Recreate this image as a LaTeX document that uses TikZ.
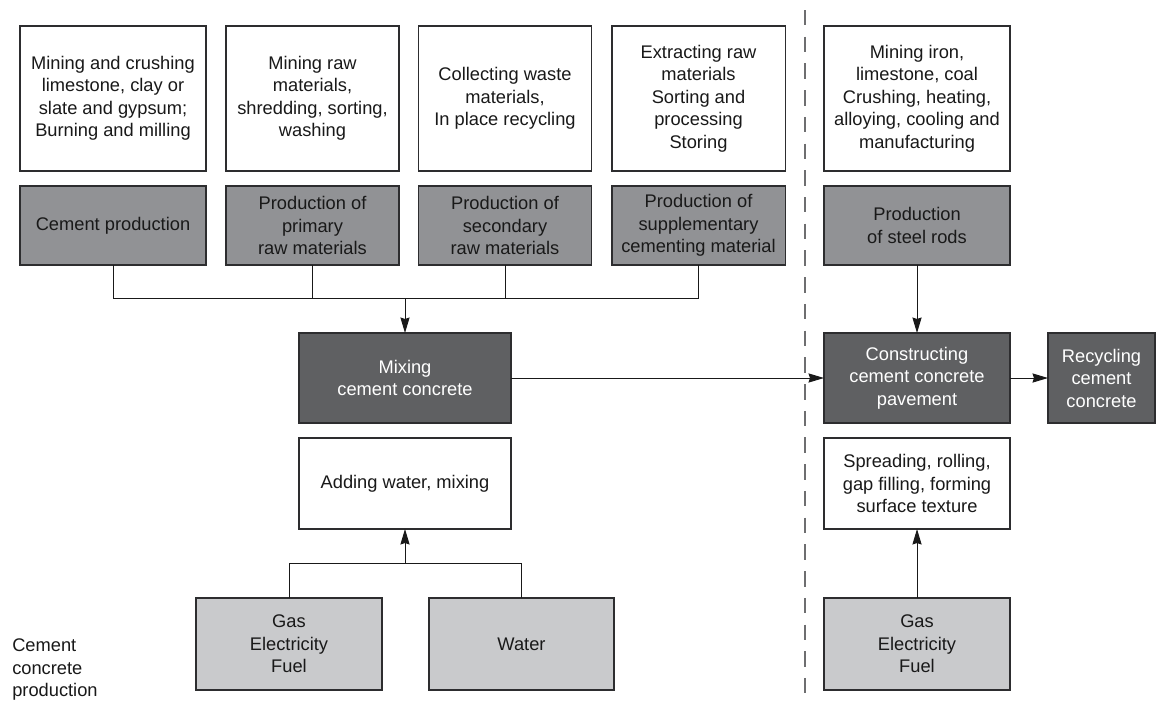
\documentclass[tikz,border=0pt]{standalone}
\usepackage{fontspec}
\setmainfont{Liberation Sans}
\usepackage{xcolor}
\definecolor{grisBorde}{RGB}{45, 45, 47}
\definecolor{grisFuerte}{RGB}{95, 96, 98}
\definecolor{grisMedio}{RGB}{145, 146, 149}
\definecolor{grisSuave}{RGB}{201, 202, 204}
\definecolor{grisRaya}{RGB}{110, 110, 112}
\usepackage{tikz}
\usetikzlibrary{arrows.meta,calc,positioning}
\tikzstyle{edge}  =[line width=0.7pt, draw=black!90,
                    >={Stealth[length=11pt,width=6.5pt,inset=1pt]}]
\tikzstyle{box}   =[rectangle, draw=grisBorde, line width=0.9pt,
                    align=center, inner sep=2pt, outer sep=0pt,
                    font=\fontsize{13}{16}\selectfont]
\tikzstyle{wbox}  =[box, fill=white, text=black!90]
\tikzstyle{gbox}  =[box, fill=grisMedio, text=black!90]
\tikzstyle{dbox}  =[box, fill=grisFuerte, text=white]
\tikzstyle{lbox}  =[box, fill=grisSuave, text=black!90]

\begin{document}
\begin{tikzpicture}[x=0.025cm,y=-0.025cm]

    \useasboundingbox (0,0) rectangle (1156,704);

    % top row, what each step needs
    \draw (113,98.5) node (w1) [wbox, minimum width=4.65cm, minimum height=3.625cm]
        {Mining and crushing\\limestone, clay or\\slate and gypsum;\\Burning and milling};
    \draw (312.5,98.5) node (w2) [wbox, minimum width=4.33cm, minimum height=3.625cm]
        {Mining raw\\materials,\\shredding, sorting,\\washing};
    \draw (505,98.5) node (w3) [wbox, minimum width=4.33cm, minimum height=3.625cm]
        {Collecting waste\\materials,\\In place recycling};
    \draw (698.5,98.5) node (w4) [wbox, minimum width=4.33cm, minimum height=3.625cm]
        {Extracting raw\\materials\\Sorting and\\processing\\Storing};
    \draw (917,98.5) node (w5) [wbox, minimum width=4.65cm, minimum height=3.625cm]
        {Mining iron,\\limestone, coal\\Crushing, heating,\\alloying, cooling and\\manufacturing};

    % second row, the productions
    \draw (113,225.5) node (g1) [gbox, minimum width=4.65cm, minimum height=1.975cm]
        {Cement production};
    \draw (312.5,225.5) node (g2) [gbox, minimum width=4.33cm, minimum height=1.975cm]
        {Production of\\primary\\raw materials};
    \draw (505,225.5) node (g3) [gbox, minimum width=4.33cm, minimum height=1.975cm]
        {Production of\\secondary\\raw materials};
    \draw (698.5,225.5) node (g4) [gbox, minimum width=4.33cm, minimum height=1.975cm]
        {Production of\\supplementary\\cementing material};
    \draw (917,225.5) node (g5) [gbox, minimum width=4.65cm, minimum height=1.975cm]
        {Production\\of steel rods};

    % main chain
    \draw (405,378) node (mix) [dbox, minimum width=5.3cm, minimum height=2.25cm]
        {Mixing\\cement concrete};
    \draw (917,378) node (cons) [dbox, minimum width=4.65cm, minimum height=2.25cm]
        {Constructing\\cement concrete\\pavement};
    \draw (1101.5,378) node (rec) [dbox, minimum width=2.675cm, minimum height=2.25cm]
        {Recycling\\cement\\concrete};

    % what happens there
    \draw (405,483.5) node (add) [wbox, minimum width=5.3cm, minimum height=2.275cm]
        {Adding water, mixing};
    \draw (917,483.5) node (spread) [wbox, minimum width=4.65cm, minimum height=2.275cm]
        {Spreading, rolling,\\gap filling, forming\\surface texture};

    % inputs
    \draw (289,644) node (gasl) [lbox, minimum width=4.65cm, minimum height=2.3cm]
        {Gas\\Electricity\\Fuel};
    \draw (521.5,644) node (water) [lbox, minimum width=4.625cm, minimum height=2.3cm]
        {Water};
    \draw (917,644) node (gasr) [lbox, minimum width=4.65cm, minimum height=2.3cm]
        {Gas\\Electricity\\Fuel};

    \draw (12,670) node (stage) [anchor=west, align=left, inner sep=0pt,
        text=black!90, font=\fontsize{13}{16}\selectfont]
        {Cement\\concrete\\production};

    % divider
    \draw [grisRaya, line width=1pt, dash pattern=on 11 off 8] (805,10) -- (805,704);

    % joins
    \coordinate (jtop) at (405,298);
    \coordinate (jbot) at (405,563);

    \foreach \i in {g1,g4}
        \draw [edge] (\i.south) |- (jtop);
    \foreach \i in {g2,g3}
        \draw [edge] (\i.south) -- (\i.south |- jtop);
    \draw [edge,->] (jtop) -- (mix.north);

    \foreach \i in {gasl,water}
        \draw [edge] (\i.north) |- (jbot);
    \draw [edge,->] (jbot) -- (add.south);

    \foreach \i/\j in {mix.east/cons.west,cons.east/rec.west,g5.south/cons.north,gasr.north/spread.south}
        \draw [edge,->] (\i) -- (\j);

\end{tikzpicture}
\end{document}
